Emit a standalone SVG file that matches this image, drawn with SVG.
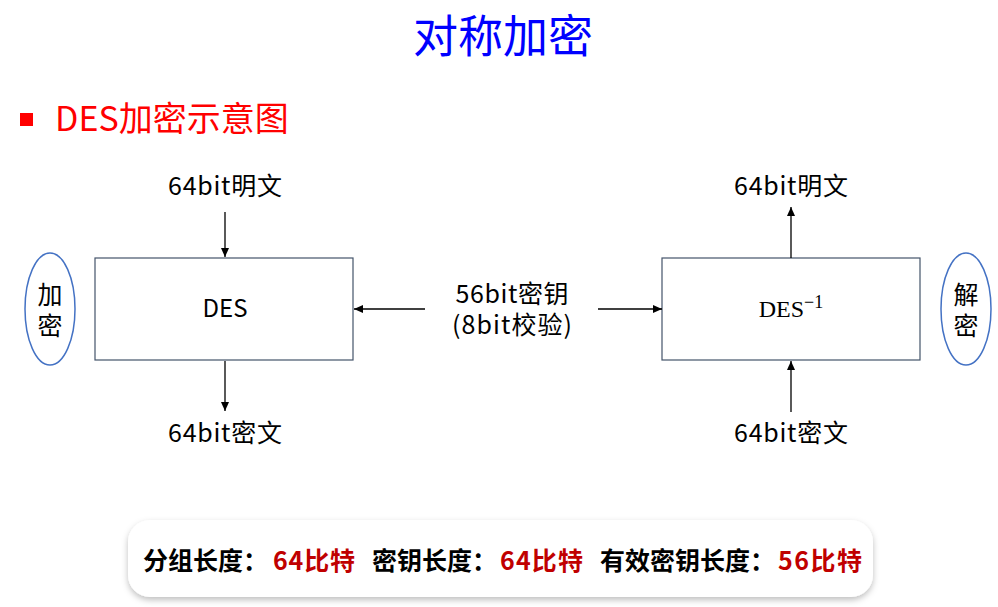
<svg xmlns="http://www.w3.org/2000/svg" width="998" height="607" viewBox="0 0 998 607">
<style>
.t{font-family:"Noto Sans CJK SC",sans-serif;font-size:25px;fill:#000;text-anchor:middle}
.box{fill:#fff;stroke:#44546A;stroke-width:1.2}
.ell{fill:#fff;stroke:#4472C4;stroke-width:1.5}
.ln{stroke:#000;stroke-width:1.3;fill:none;marker-end:url(#ah)}
.b{font-family:"Noto Sans CJK SC",sans-serif;font-size:25px;font-weight:bold;fill:#000}
.r{fill:#C00000}
</style>
<defs>
<marker id="ah" markerWidth="10" markerHeight="10" refX="9" refY="5" orient="auto" markerUnits="userSpaceOnUse">
<path d="M0,1 L9,5 L0,9 Z" fill="#000"/>
</marker>
<filter id="sh" x="-5%" y="-20%" width="110%" height="150%">
<feDropShadow dx="0" dy="3" stdDeviation="3" flood-color="#000" flood-opacity="0.25"/>
</filter>
</defs>
<rect width="998" height="607" fill="#fff"/>
<text x="503" y="53" style="font-family:'Noto Sans CJK SC',sans-serif;font-size:45px;fill:#0000FF;text-anchor:middle">对称加密</text>
<rect x="20" y="113" width="13" height="13" fill="#FF0000"/>
<text x="55" y="131" style="font-family:'Noto Sans CJK SC',sans-serif;font-size:34px;fill:#FF0000">DES加密示意图</text>

<g id="enc-label"><ellipse class="ell" cx="50" cy="309" rx="25" ry="56"/><text class="t" x="50" y="304">加<tspan x="50" dy="31">密</tspan></text></g>
<g id="des"><rect class="box" x="95" y="258" width="258" height="102"/><text x="225" y="317" style="font-family:'Noto Sans CJK SC',sans-serif;font-size:24px;text-anchor:middle">DES</text></g>
<g id="des-inv"><rect class="box" x="662" y="258" width="258" height="102"/><text x="791" y="317" style="font-family:'Liberation Serif',serif;font-size:24px;text-anchor:middle">DES<tspan dy="-9" font-size="18">−1</tspan></text></g>
<g id="dec-label"><ellipse class="ell" cx="966" cy="309" rx="25" ry="56"/><text class="t" x="966" y="304">解<tspan x="966" dy="31">密</tspan></text></g>

<g id="p1"><text class="t" x="225" y="195" textLength="114">64bit明文</text></g>
<g id="c1"><text class="t" x="225" y="442" textLength="114">64bit密文</text></g>
<g id="p2"><text class="t" x="791" y="195" textLength="114">64bit明文</text></g>
<g id="c2"><text class="t" x="791" y="442" textLength="114">64bit密文</text></g>
<g id="key"><text class="t" x="512" y="303"><tspan textLength="113">56bit密钥</tspan><tspan x="512" dy="31" textLength="120">(8bit校验)</tspan></text></g>

<g id="connectors">
<line class="ln" x1="225" y1="212" x2="225" y2="257"/>
<line class="ln" x1="225" y1="361" x2="225" y2="411"/>
<line class="ln" x1="791" y1="258" x2="791" y2="207"/>
<line class="ln" x1="791" y1="412" x2="791" y2="361"/>
<line class="ln" x1="425" y1="309" x2="354" y2="309"/>
<line class="ln" x1="598" y1="309" x2="662" y2="309"/>
</g>

<g id="summary">
<rect x="128" y="520" width="745" height="77" rx="22" fill="#fff" filter="url(#sh)"/>
<text class="b" x="143" y="570">分组长度：</text>
<text class="b r" x="273" y="570" textLength="82">64比特</text>
<text class="b" x="372" y="570">密钥长度：</text>
<text class="b r" x="500" y="570" textLength="83">64比特</text>
<text class="b" x="600" y="570">有效密钥长度：</text>
<text class="b r" x="778" y="570" textLength="84">56比特</text>
</g>
</svg>
